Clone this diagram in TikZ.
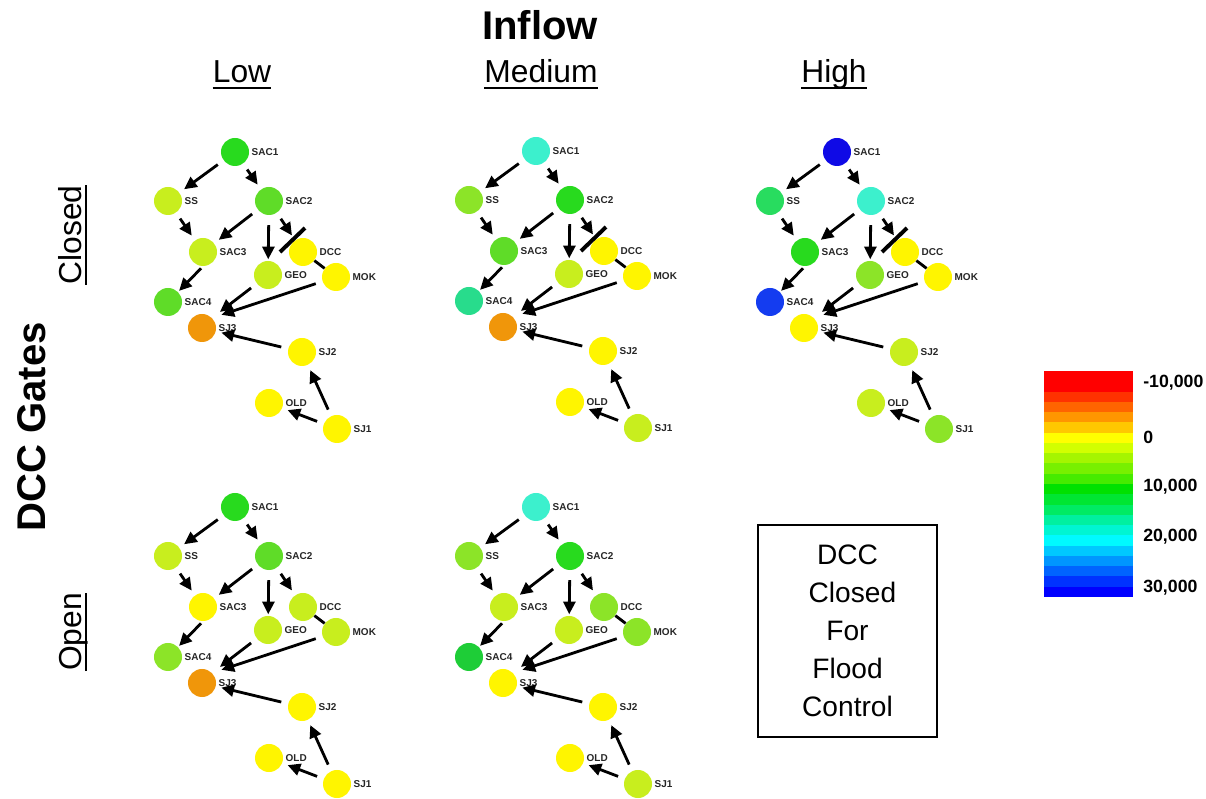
\documentclass[tikz,border=0pt]{standalone}
\usepackage{fontspec}
\setmainfont{Liberation Sans}
\usetikzlibrary{arrows.meta}

\definecolor{cyel}{RGB}{255,245,0}
\definecolor{cyg}{RGB}{200,238,30}
\definecolor{clgreen}{RGB}{140,228,40}
\definecolor{cmgreen}{RGB}{95,220,40}
\definecolor{cgreen}{RGB}{40,218,30}
\definecolor{cdgreen}{RGB}{30,205,55}
\definecolor{csgreen}{RGB}{40,220,95}
\definecolor{cteal}{RGB}{40,220,140}
\definecolor{caqua}{RGB}{60,240,205}
\definecolor{corange}{RGB}{240,150,10}
\definecolor{cblue}{RGB}{15,10,230}
\definecolor{cblueb}{RGB}{20,60,240}

\tikzset{
  stn/.style={circle, minimum size=0.7cm, inner sep=0pt},
  lbl/.style={font=\bfseries\fontsize{7.1}{8}\selectfont, text=black!85, inner sep=0.5pt, label distance=1pt},
  flow/.style={line width=2pt, -{Triangle[length=9pt,width=8.5pt]}, shorten <=5pt, shorten >=4pt},
  link/.style={line width=2pt},
  gatebar/.style={line width=2.8pt},
  uline/.style={line width=2pt},
  title/.style={font=\bfseries\fontsize{28.5}{30}\selectfont, inner sep=0pt},
  head/.style={font=\fontsize{22.6}{24}\selectfont, inner sep=0pt},
  note/.style={draw, line width=1.4pt, minimum width=4.475cm, minimum height=5.3cm,
    align=center, font=\fontsize{20}{27}\selectfont},
  cbl/.style={font=\bfseries\fontsize{12.6}{14}\selectfont, inner sep=0pt},
}

% #1 name prefix, #2 position of SAC1, #3 the twelve fill colours
\newcommand{\network}[3]{%
  \foreach \c [count=\i] in {#3} {\expandafter\xdef\csname nc\i\endcsname{\c}}%
  \begin{scope}[shift={#2}]
  \foreach \n/\x/\y [count=\i] in {SAC1/0/0, SS/-67/49, SAC2/34/49, SAC3/-32/100,
      DCC/68/100, GEO/33/123, MOK/101/125, SAC4/-67/150, SJ3/-33/176,
      SJ2/67/200, OLD/34/251, SJ1/102/277} {
    \edef\cc{\csname nc\i\endcsname}
    \node[stn, fill=\cc, label={[lbl]right:\n}] (#1\n) at (\x,\y) {};
  }
  \end{scope}
  \draw[flow] (#1SAC1) -- (#1SS);
  \draw[flow] (#1SAC1) -- (#1SAC2);
  \draw[flow] (#1SS) -- (#1SAC3);
  \draw[flow] (#1SAC2) -- (#1SAC3);
  \draw[flow, shorten <=7pt, shorten >=1pt] (#1SAC2) -- (#1GEO);
  \draw[flow] (#1SAC2) -- (#1DCC);
  \draw[link] (#1DCC) -- (#1MOK);
  \draw[flow, shorten <=2pt, shorten >=1pt] (#1SAC3.south) -- (#1SAC4.north east);
  \draw[flow, shorten >=7pt] (#1GEO) -- (#1SJ3.north east);
  \draw[flow, shorten >=7pt] (#1MOK) -- (#1SJ3.north east);
  \draw[flow] (#1SJ2) -- (#1SJ3);
  \draw[flow] (#1SJ1) -- (#1SJ2);
  \draw[flow] (#1SJ1) -- (#1OLD);
}

% closed gate across the DCC inflow
\newcommand{\gate}[1]{%
  \draw[gatebar] ([shift={(-23,0)}]#1DCC.center) -- ([shift={(2,-24)}]#1DCC.center);}

\begin{document}
\begin{tikzpicture}[x=0.025cm, y=-0.025cm]
\useasboundingbox (0,0) rectangle (1206,799);

% headings
\node[title, anchor=base] (inflow) at (540,40) {Inflow};
\node[head, anchor=base] (low) at (242,83) {Low};
\node[head, anchor=base] (medium) at (541,83) {Medium};
\node[head, anchor=base] (high) at (834,83) {High};
\foreach \h in {low, medium, high}
  \draw[uline] ([yshift=-3.5pt]\h.base west) -- ([yshift=-3.5pt]\h.base east);

\node[title, rotate=90, anchor=base] (gates) at (46,427) {DCC Gates};
\node[head, rotate=90, anchor=base] (closed) at (81,235) {Closed};
\node[head, rotate=90, anchor=base] (open) at (81,632) {Open};
\foreach \h in {closed, open}
  \draw[uline] ([xshift=3.5pt]\h.base west) -- ([xshift=3.5pt]\h.base east);

% gates closed
\network{a}{(235,152)}{cgreen,cyg,cmgreen,cyg,cyel,cyg,cyel,cmgreen,corange,cyel,cyel,cyel}
\network{b}{(536,151)}{caqua,clgreen,cgreen,cmgreen,cyel,cyg,cyel,cteal,corange,cyel,cyel,cyg}
\network{c}{(837,152)}{cblue,csgreen,caqua,cgreen,cyel,clgreen,cyel,cblueb,cyel,cyg,cyg,clgreen}
\gate{a}
\gate{b}
\gate{c}

% gates open
\network{d}{(235,507)}{cgreen,cyg,cmgreen,cyel,cyg,cyg,cyg,clgreen,corange,cyel,cyel,cyel}
\network{e}{(536,507)}{caqua,clgreen,cgreen,cyg,clgreen,cyg,clgreen,cdgreen,cyel,cyel,cyel,cyg}

\node[note] (note) at (847.5,631) {DCC\\\hspace*{7pt}Closed\\For\\Flood\\Control};

% colour scale
\foreach \r/\g/\b [count=\i from 0] in {255/0/0, 255/0/0, 255/50/0, 255/100/0, 255/150/0,
    255/200/0, 255/255/0, 210/255/0, 165/245/0, 120/240/0, 70/235/0, 0/225/0,
    0/230/50, 0/235/100, 0/240/160, 0/245/210, 0/250/255, 0/200/255, 0/150/255,
    0/100/255, 0/50/255, 0/0/255} {
  \definecolor{band}{RGB}{\r,\g,\b}
  \fill[band] (1044,{371+\i*10.27}) rectangle (1133,{371+(\i+1)*10.27});
}
\node[cbl, anchor=west] (cb1) at (1143,383) {-10,000};
\node[cbl, anchor=west] (cb2) at (1143,437) {0};
\node[cbl, anchor=west] (cb3) at (1143,487) {10,000};
\node[cbl, anchor=west] (cb4) at (1143,537) {20,000};
\node[cbl, anchor=west] (cb5) at (1143,588) {30,000};
\end{tikzpicture}
\end{document}
